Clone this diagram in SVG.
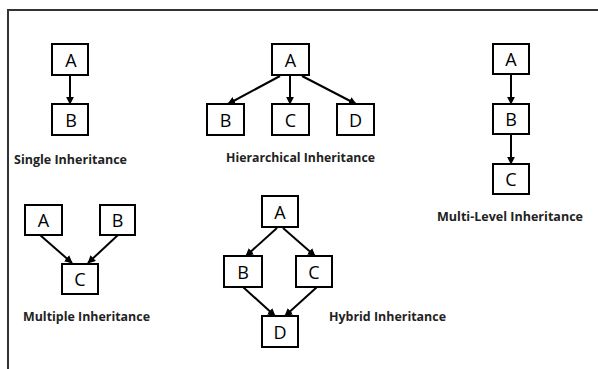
<svg xmlns="http://www.w3.org/2000/svg" width="598" height="369" viewBox="0 0 598 369">
<defs>
<marker id="ah" viewBox="0 0 10 10" refX="9" refY="5" markerWidth="4" markerHeight="4" orient="auto" markerUnits="strokeWidth">
<path d="M0,0 L10,5 L0,10 z" fill="#000"/>
</marker>
<style>
.box{fill:#fff;stroke:#000;stroke-width:2}
.lt{font-family:"Open Sans","Liberation Sans",sans-serif;font-size:18px;fill:#000;text-anchor:middle}
.cap{font-family:"Open Sans","Liberation Sans",sans-serif;font-size:11.5px;font-weight:bold;fill:#222}
.edge{stroke:#000;stroke-width:2;fill:none;marker-end:url(#ah)}
.frame{stroke:#333;stroke-width:2;fill:none}
</style>
</defs>
<rect width="598" height="369" fill="#fff"/>
<path class="frame" d="M8,369 V10 H598"/>
<g id="connectors">
<line class="edge" x1="70" y1="75" x2="70" y2="104"/>
<line class="edge" x1="280" y1="76" x2="228" y2="104"/>
<line class="edge" x1="290" y1="76" x2="290" y2="104"/>
<line class="edge" x1="302" y1="76" x2="356" y2="104"/>
<line class="edge" x1="511" y1="74" x2="511" y2="104"/>
<line class="edge" x1="511" y1="134" x2="511" y2="164"/>
<line class="edge" x1="40" y1="235" x2="72" y2="263"/>
<line class="edge" x1="118" y1="235" x2="88" y2="263"/>
<line class="edge" x1="277" y1="228" x2="246" y2="256"/>
<line class="edge" x1="283" y1="228" x2="315" y2="256"/>
<line class="edge" x1="243" y1="287" x2="275" y2="316"/>
<line class="edge" x1="317" y1="287" x2="285" y2="316"/>
</g>
<g id="single-A"><rect class="box" x="52" y="44" width="36" height="31"/><text class="lt" x="71" y="67">A</text></g>
<g id="single-B"><rect class="box" x="52" y="104" width="36" height="31"/><text class="lt" x="71" y="127">B</text></g>
<text class="cap" x="14" y="164" textLength="113" lengthAdjust="spacingAndGlyphs">Single Inheritance</text>
<g id="hier-A"><rect class="box" x="272" y="44" width="37" height="31"/><text class="lt" x="290.5" y="67">A</text></g>
<g id="hier-B"><rect class="box" x="207" y="104" width="37" height="31"/><text class="lt" x="225.5" y="127">B</text></g>
<g id="hier-C"><rect class="box" x="272" y="104" width="37" height="31"/><text class="lt" x="290.5" y="127">C</text></g>
<g id="hier-D"><rect class="box" x="337" y="104" width="37" height="31"/><text class="lt" x="355.5" y="127">D</text></g>
<text class="cap" x="226" y="162" textLength="149" lengthAdjust="spacingAndGlyphs">Hierarchical Inheritance</text>
<g id="multi-A"><rect class="box" x="493" y="44" width="36" height="30"/><text class="lt" x="511" y="66">A</text></g>
<g id="multi-B"><rect class="box" x="493" y="104" width="36" height="30"/><text class="lt" x="511" y="126">B</text></g>
<g id="multi-C"><rect class="box" x="493" y="164" width="36" height="30"/><text class="lt" x="511" y="186">C</text></g>
<text class="cap" x="437" y="221" textLength="146" lengthAdjust="spacingAndGlyphs">Multi-Level Inheritance</text>
<g id="mult-A"><rect class="box" x="25" y="205" width="37" height="30"/><text class="lt" x="43.5" y="227">A</text></g>
<g id="mult-B"><rect class="box" x="100" y="205" width="35" height="30"/><text class="lt" x="117.5" y="227">B</text></g>
<g id="mult-C"><rect class="box" x="62" y="264" width="36" height="30"/><text class="lt" x="80" y="286">C</text></g>
<text class="cap" x="23" y="321" textLength="127" lengthAdjust="spacingAndGlyphs">Multiple Inheritance</text>
<g id="hyb-A"><rect class="box" x="262" y="196" width="36" height="31"/><text class="lt" x="280" y="219">A</text></g>
<g id="hyb-B"><rect class="box" x="224" y="256" width="38" height="31"/><text class="lt" x="243" y="279">B</text></g>
<g id="hyb-C"><rect class="box" x="296" y="256" width="36" height="31"/><text class="lt" x="314" y="279">C</text></g>
<g id="hyb-D"><rect class="box" x="262" y="316" width="36" height="31"/><text class="lt" x="280" y="339">D</text></g>
<text class="cap" x="329" y="321" textLength="117" lengthAdjust="spacingAndGlyphs">Hybrid Inheritance</text>
</svg>
